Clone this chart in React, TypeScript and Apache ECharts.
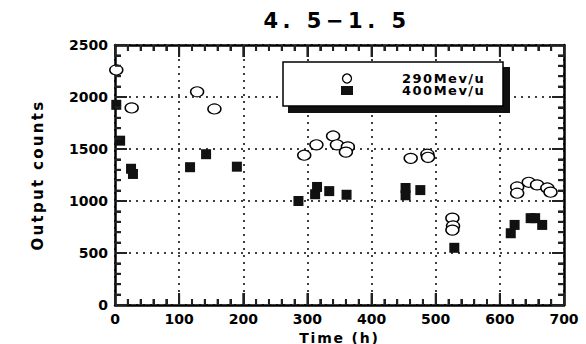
import React, { useEffect, useRef } from "react";
import * as echarts from "echarts";

const titleText = "4. 5−1. 5";
const xName = "Time (h)";
const yName = "Output counts";
const seriesNames = ["290Mev/u", "400Mev/u"];
const xTicks = [0, 100, 200, 300, 400, 500, 600, 700];
const yTicks = [0, 500, 1000, 1500, 2000, 2500];
const minorPerMajor = 5;

const time290 = [2, 26, 128, 155, 295, 314, 340, 346, 363, 360, 461, 487, 488, 526, 527, 526, 627, 627, 645, 658, 674, 679];
const counts290 = [2260, 1895, 2050, 1885, 1440, 1540, 1625, 1540, 1520, 1470, 1410, 1450, 1420, 835, 760, 720, 1135, 1075, 1180, 1155, 1125, 1085];

const time400 = [2, 8, 25, 28, 117, 142, 190, 286, 312, 315, 334, 361, 453, 453, 476, 529, 617, 623, 648, 655, 666];
const counts400 = [1925, 1580, 1310, 1260, 1325, 1450, 1330, 1000, 1065, 1135, 1095, 1060, 1125, 1055, 1105, 550, 690, 770, 835, 835, 770];

const FONT = "DejaVu Sans";

function tickValues(ticks: number[]) {
  const out: { v: number; major: number }[] = [];
  for (let i = 0; i < ticks.length; i++) {
    out.push({ v: ticks[i], major: 1 });
    if (i < ticks.length - 1) {
      const step = (ticks[i + 1] - ticks[i]) / minorPerMajor;
      for (let k = 1; k < minorPerMajor; k++) out.push({ v: ticks[i] + k * step, major: 0 });
    }
  }
  return out;
}

export default function App() {
  const ref = useRef<HTMLDivElement>(null);
  useEffect(() => {
    if (!ref.current) return;
    const chart = echarts.init(ref.current, undefined, { renderer: "svg" });
    const xStep = xTicks[1] - xTicks[0];
    const yStep = yTicks[1] - yTicks[0];
    const labelStyle = { color: "#000", fontFamily: FONT, fontWeight: "bold" as const, fontSize: 14 };
    const tickFill = { fill: "#222" };
    const MAJOR = 12;
    const MINOR = 6;
    const TW = 2;
    const mkParts = () => ({
      axisLine: { show: true, onZero: false, lineStyle: { color: "#000", width: 2.5 } },
      axisTick: { show: true, inside: true, length: MAJOR, lineStyle: { color: "#222", width: 2 } },
      minorTick: { show: true, splitNumber: minorPerMajor, length: MINOR, lineStyle: { color: "#222", width: 2 } },
    });
    chart.setOption({
      animation: false,
      backgroundColor: "#fff",
      title: {
        text: titleText,
        left: 332,
        top: 5,
        textAlign: "center",
        textStyle: { color: "#000", fontFamily: FONT, fontWeight: "bold", fontSize: 21 },
      },
      grid: {
        left: 115,
        right: 22,
        top: 45,
        bottom: 39,
        outerBoundsMode: "none",
        containLabel: false,
      },
      legend: {
        orient: "vertical",
        left: 341,
        top: 72,
        padding: 0,
        itemWidth: 12,
        itemHeight: 9,
        itemGap: -1,
        z: 10,
        selectedMode: false,
        data: [
          { name: seriesNames[0], icon: "circle", itemStyle: { color: "#fff", borderColor: "#000", borderWidth: 1.3 } },
          { name: seriesNames[1], icon: "rect", itemStyle: { color: "#111" } },
        ],
        textStyle: { ...labelStyle, fontSize: 13, padding: [0, 0, 0, 44] },
      },
      graphic: [
        { type: "rect", z: 1, shape: { x: 288, y: 67, width: 222, height: 46 }, style: { fill: "#111" } },
        { type: "rect", z: 2, shape: { x: 283, y: 62, width: 220, height: 44 }, style: { fill: "#fff", stroke: "#000", lineWidth: 1.5 } },
      ],
      xAxis: [
        {
          type: "value",
          min: xTicks[0],
          max: xTicks[xTicks.length - 1],
          interval: xStep,
          name: xName,
          nameLocation: "middle",
          nameGap: 19,
          nameTextStyle: { ...labelStyle, fontSize: 14 },
          axisLabel: { ...labelStyle, margin: 7, formatter: (v: number) => String(v) },
          splitLine: { show: true, lineStyle: { color: "#000", width: 1.5, type: [2, 5] } },
          ...mkParts(),
        },
        {
          type: "value",
          position: "top",
          min: xTicks[0],
          max: xTicks[xTicks.length - 1],
          interval: xStep,
          axisLabel: { show: false },
          splitLine: { show: false },
          ...mkParts(),
        },
      ],
      yAxis: [
        {
          type: "value",
          min: yTicks[0],
          max: yTicks[yTicks.length - 1],
          interval: yStep,
          name: yName,
          nameLocation: "middle",
          nameRotate: 90,
          nameGap: 70,
          nameTextStyle: { ...labelStyle, fontSize: 15 },
          axisLabel: { ...labelStyle, margin: 7, formatter: (v: number) => String(v) },
          splitLine: { show: true, lineStyle: { color: "#000", width: 1.5, type: [2, 5] } },
          ...mkParts(),
        },
        {
          type: "value",
          position: "right",
          min: yTicks[0],
          max: yTicks[yTicks.length - 1],
          interval: yStep,
          axisLabel: { show: false },
          splitLine: { show: false },
          ...mkParts(),
        },
      ],
      series: [
        {
          name: seriesNames[0],
          type: "scatter",
          symbol: "circle",
          symbolSize: [13, 10],
          itemStyle: { color: "#fff", borderColor: "#000", borderWidth: 1.3, opacity: 1 },
          z: 3,
          data: time290.map((t, i) => [t, counts290[i]]),
        },
        {
          name: seriesNames[1],
          type: "scatter",
          symbol: "rect",
          symbolSize: 10,
          itemStyle: { color: "#111", opacity: 1 },
          z: 4,
          data: time400.map((t, i) => [t, counts400[i]]),
        },
        {
          type: "custom",
          silent: true,
          clip: false,
          z: 6,
          data: tickValues(xTicks).map((t) => [t.v, yTicks[0], t.major]),
          renderItem: (params: any, api: any) => {
            const p = api.coord([api.value(0), api.value(1)]);
            const cs = params.coordSys;
            const len = api.value(2) ? MAJOR : MINOR;
            const bottom = cs.y + cs.height;
            return {
              type: "group",
              children: [
                { type: "rect", shape: { x: p[0] - TW / 2, y: bottom - len, width: TW, height: len }, style: tickFill },
                { type: "rect", shape: { x: p[0] - TW / 2, y: cs.y, width: TW, height: len }, style: tickFill },
              ],
            };
          },
        },
        {
          type: "custom",
          silent: true,
          clip: false,
          z: 6,
          data: tickValues(yTicks).map((t) => [xTicks[0], t.v, t.major]),
          renderItem: (params: any, api: any) => {
            const p = api.coord([api.value(0), api.value(1)]);
            const cs = params.coordSys;
            const len = api.value(2) ? MAJOR : MINOR;
            const right = cs.x + cs.width;
            return {
              type: "group",
              children: [
                { type: "rect", shape: { x: cs.x, y: p[1] - TW / 2, width: len, height: TW }, style: tickFill },
                { type: "rect", shape: { x: right - len, y: p[1] - TW / 2, width: len, height: TW }, style: tickFill },
              ],
            };
          },
        },
      ],
    });
    const spacing: Record<string, string> = {
      [titleText]: "4.5px",
      [yName]: "2.3px",
      [xName]: "1.8px",
      [seriesNames[0]]: "1.5px",
      [seriesNames[1]]: "1.5px",
    };
    const applySpacing = () => {
      const root = ref.current;
      if (!root) return;
      root.querySelectorAll("text").forEach((el) => {
        const s = spacing[el.textContent || ""];
        if (s) el.setAttribute("letter-spacing", s);
      });
    };
    applySpacing();
    chart.on("finished", applySpacing);
    const t = setTimeout(applySpacing, 50);
    return () => {
      clearTimeout(t);
      chart.dispose();
    };
  }, []);
  return <div ref={ref} style={{ width: 586, height: 344, position: "absolute", left: 0, top: 0 }} />;
}
